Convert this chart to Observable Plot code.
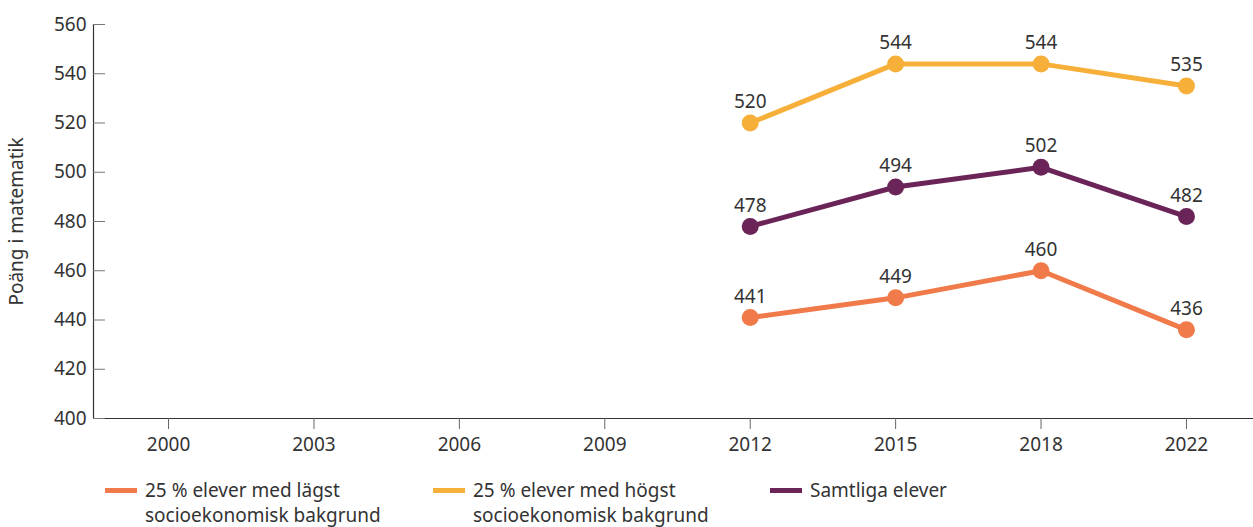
<!DOCTYPE html>
<html><head><meta charset="utf-8">
<script src="https://cdn.jsdelivr.net/npm/d3@7"></script>
<script src="https://cdn.jsdelivr.net/npm/@observablehq/plot@0.6"></script>
<style>
body{margin:0;background:#fff;font-family:"Noto Sans",sans-serif;color:#333;}
#legend{display:flex;margin-top:18px;padding-left:105px;font-size:19px;line-height:25px;}
.item{display:flex;align-items:flex-start;}
.sw{width:32px;height:5px;margin-top:10px;margin-right:8px;flex:none}
.lbl{white-space:pre-line}
</style></head><body><div id="chart"></div><div id="legend"></div>
<script>
const years = ["2000","2003","2006","2009","2012","2015","2018","2022"];
const dataYears = ["2012","2015","2018","2022"];
const lowest = [441,449,460,436];
const highest = [520,544,544,535];
const allStudents = [478,494,502,482];
const seriesNames = ["25 % elever med lägst\nsocioekonomisk bakgrund","25 % elever med högst\nsocioekonomisk bakgrund","Samtliga elever"];
const seriesColors = ["#F07A4A","#F6B03A","#6A2458"];
const yTicks = [400,420,440,460,480,500,520,540,560];
const legendWidths = [328, 337, 300];

const seriesValues = [lowest, highest, allStudents];
const rows = [];
seriesValues.forEach((vals, si) => {
  vals.forEach((v, i) => rows.push({s: seriesNames[si], xi: years.indexOf(dataYears[i]), v}));
});

const xDomain = [-0.516, 7.461];
const chart = Plot.plot({
  width: 1253, height: 460,
  marginLeft: 93, marginRight: 0, marginTop: 24, marginBottom: 42,
  style: {fontFamily: "Noto Sans", fontSize: "19px", color: "#333", background: "#fff"},
  x: {type: "linear", domain: xDomain},
  y: {domain: [400, 560]},
  color: {domain: seriesNames, range: seriesColors},
  marks: [
    Plot.ruleY([400], {stroke: "#333", strokeWidth: 1.2}),
    Plot.ruleX([xDomain[0]], {stroke: "#333", strokeWidth: 1.2}),
    Plot.axisX(d3.range(years.length), {tickFormat: i => years[i], tickSize: 11, tickPadding: 8, stroke: "#666", label: null}),
    Plot.axisY(yTicks, {tickSize: -12, tickPadding: 19, stroke: "#777", label: "Poäng i matematik", labelAnchor: "center", labelOffset: 84, labelArrow: "none"}),
    Plot.line(rows, {x: "xi", y: "v", z: "s", stroke: "s", strokeWidth: 5}),
    Plot.dot(rows, {x: "xi", y: "v", r: 8.5, fill: "s"}),
    Plot.text(rows, {x: "xi", y: "v", text: "v", dy: -21, fill: "#333"})
  ]
});
document.getElementById("chart").appendChild(chart);

const legend = document.getElementById("legend");
seriesNames.forEach((name, i) => {
  const item = document.createElement("div");
  item.className = "item";
  item.style.width = legendWidths[i] + "px";
  const sw = document.createElement("div");
  sw.className = "sw";
  sw.style.background = seriesColors[i];
  const lbl = document.createElement("div");
  lbl.className = "lbl";
  lbl.textContent = name;
  item.appendChild(sw); item.appendChild(lbl);
  legend.appendChild(item);
});
</script></body></html>
